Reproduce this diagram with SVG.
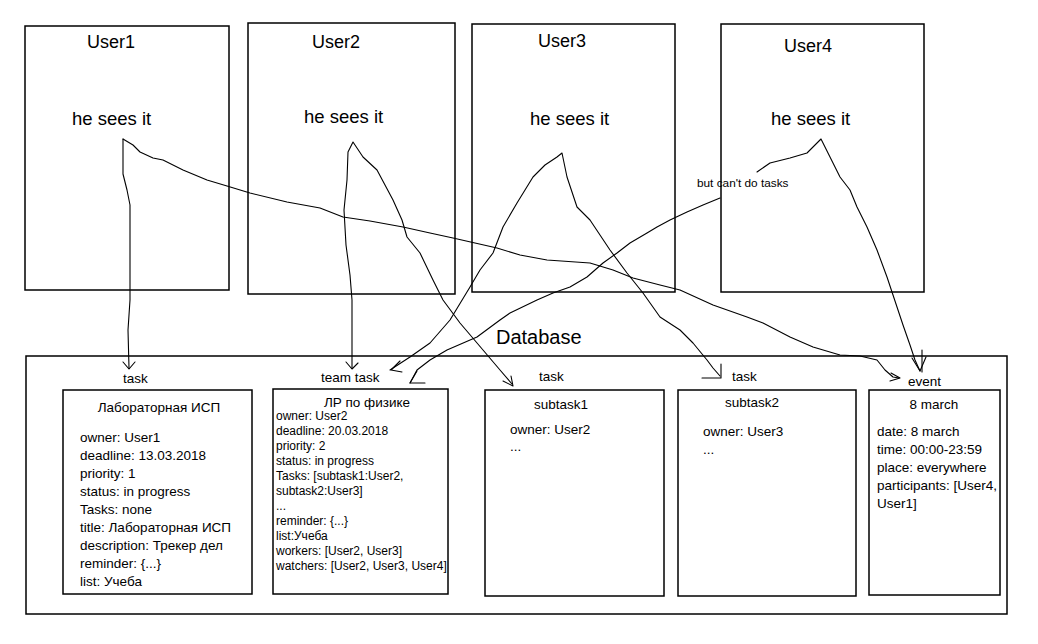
<svg xmlns="http://www.w3.org/2000/svg" width="1038" height="644" viewBox="0 0 1038 644">
<style>
  .box { fill: none; stroke: #000; stroke-width: 1.5; }
  .t { font-family: "Liberation Sans", Arial, "Noto Sans CJK SC", sans-serif; fill: #000; }
  .user { font-size: 18px; }
  .sees { font-size: 18.5px; }
  .lbl { font-size: 13.5px; }
  .body { font-size: 13.5px; }
  .body12 { font-size: 12px; }
  .db { font-size: 20px; }
  .note { font-size: 11.8px; }
  .wire { fill: none; stroke: #000; stroke-width: 1.1; stroke-linejoin: round; stroke-linecap: round; }
</style>
<rect x="0" y="0" width="1038" height="644" fill="#fff"/>

<g id="user1">
  <rect class="box" x="25" y="26" width="204" height="264"/>
  <text class="t user" x="87" y="48">User1</text>
  <text class="t sees" x="72" y="125">he sees it</text>
</g>
<g id="user2">
  <rect class="box" x="248" y="23" width="207" height="271"/>
  <text class="t user" x="312" y="48">User2</text>
  <text class="t sees" x="304" y="123">he sees it</text>
</g>
<g id="user3">
  <rect class="box" x="472" y="24" width="203" height="268"/>
  <text class="t user" x="538" y="47">User3</text>
  <text class="t sees" x="530" y="125">he sees it</text>
</g>
<g id="user4">
  <rect class="box" x="721" y="24" width="203" height="268"/>
  <text class="t user" x="784" y="52">User4</text>
  <text class="t sees" x="771" y="125">he sees it</text>
</g>

<g id="database">
  <rect class="box" x="26" y="356" width="981" height="258"/>
  <text class="t db" x="496" y="344">Database</text>
</g>

<g id="task1">
  <text class="t lbl" x="123" y="383">task</text>
  <rect class="box" x="63" y="390" width="189" height="204"/>
  <text class="t body" x="159" y="412" text-anchor="middle">Лабораторная ИСП</text>
  <text class="t body" x="80" y="441.5">owner: User1</text>
  <text class="t body" x="80" y="459.5">deadline: 13.03.2018</text>
  <text class="t body" x="80" y="477.5">priority: 1</text>
  <text class="t body" x="80" y="495.5">status: in progress</text>
  <text class="t body" x="80" y="513.5">Tasks: none</text>
  <text class="t body" x="80" y="531.5">title: Лабораторная ИСП</text>
  <text class="t body" x="80" y="549.5">description: Трекер дел</text>
  <text class="t body" x="80" y="567.5">reminder: {...}</text>
  <text class="t body" x="80" y="585.5">list: Учеба</text>
</g>

<g id="teamtask">
  <text class="t lbl" x="321" y="382">team task</text>
  <rect class="box" x="273" y="389" width="175" height="205"/>
  <text class="t body" x="367" y="407" text-anchor="middle">ЛР по физике</text>
  <text class="t body12" x="276" y="420">owner: User2</text>
  <text class="t body12" x="276" y="435">deadline: 20.03.2018</text>
  <text class="t body12" x="276" y="450">priority: 2</text>
  <text class="t body12" x="276" y="465">status: in progress</text>
  <text class="t body12" x="276" y="480">Tasks: [subtask1:User2,</text>
  <text class="t body12" x="276" y="495">subtask2:User3]</text>
  <text class="t body12" x="276" y="510">...</text>
  <text class="t body12" x="276" y="525">reminder: {...}</text>
  <text class="t body12" x="276" y="540">list:Учеба</text>
  <text class="t body12" x="276" y="555">workers: [User2, User3]</text>
  <text class="t body12" x="276" y="570">watchers: [User2, User3, User4]</text>
</g>

<g id="subtask1">
  <text class="t lbl" x="539" y="381">task</text>
  <rect class="box" x="485" y="390" width="179" height="206"/>
  <text class="t body" x="561" y="409" text-anchor="middle">subtask1</text>
  <text class="t body" x="510" y="434">owner: User2</text>
  <text class="t body" x="510" y="451">...</text>
</g>

<g id="subtask2">
  <text class="t lbl" x="732" y="381">task</text>
  <rect class="box" x="678" y="390" width="178" height="206"/>
  <text class="t body" x="752" y="407" text-anchor="middle">subtask2</text>
  <text class="t body" x="703" y="436">owner: User3</text>
  <text class="t body" x="703" y="454">...</text>
</g>

<g id="event">
  <text class="t lbl" x="908" y="386">event</text>
  <rect class="box" x="869" y="390" width="131" height="205"/>
  <text class="t body" x="934" y="409" text-anchor="middle">8 march</text>
  <text class="t body" x="877" y="436">date: 8 march</text>
  <text class="t body" x="877" y="454">time: 00:00-23:59</text>
  <text class="t body" x="877" y="472">place: everywhere</text>
  <text class="t body" x="877" y="490">participants: [User4,</text>
  <text class="t body" x="877" y="508">User1]</text>
</g>

<g id="connectors">
  <!-- User1 -> task -->
  <path class="wire" d="M123,139 L123,174 L127,190 L130,205 L130,300 L128,330 L129,368"/>
  <path class="wire" d="M123,362 L129,369 L135,362"/>
  <!-- User1 -> event -->
  <path class="wire" d="M123,139 L133,145 L140,152 L153,158 L163,160 L183,170 L207,180 L227,186 L250,193 L287,202 L320,208 L343,217 L370,221 L403,227 L430,233 L453,238 L497,248 L520,255 L547,260 L590,263 L613,270 L633,278 L660,285 L680,290 L713,305 L747,317 L763,323 L790,337 L813,347 L840,355 L860,356 L877,360 L885,370 L893,377 L899,378"/>
  <path class="wire" d="M891,373 L900,378 L890,381"/>
  <!-- User2 -> team task, subtask1 -->
  <path class="wire" d="M352,368 L352,300 L350,275 L346,245 L344,210 L347,180 L348,152 L353,142 L363,157 L377,170 L393,200 L402,220 L407,237 L420,253 L433,280 L443,300 L460,323 L483,350 L500,370 L512,384"/>
  <path class="wire" d="M346,362 L352,369 L358,363"/>
  <path class="wire" d="M503,381 L513,386 L511,376"/>
  <!-- User3 -> team task, subtask2 -->
  <path class="wire" d="M390,370 L410,357 L430,343 L450,320 L470,287 L480,270 L493,253 L503,227 L517,203 L533,177 L545,165 L557,157 L562,153 L567,177 L577,207 L590,220 L610,250 L627,273 L643,293 L660,317 L680,330 L693,343 L707,360 L713,368 L720,376"/>
  <path class="wire" d="M400,361 L391,370 L402,372"/>
  <path class="wire" d="M721,364 L721,378 L702,378"/>
  <!-- User4 -> team task (but can't do tasks), event -->
  <path class="wire" d="M757,172 L770,163 L790,158 L807,153 L821,139 L830,157 L840,177 L850,190 L857,207 L867,227 L877,250 L887,277 L897,307 L903,325 L910,345 L915,360 L920,371"/>
  <path class="wire" d="M912,358 L920,371 L926,357"/>
  <path class="wire" d="M922,350 L922,372"/>
  <path class="wire" d="M720,198 L703,205 L687,212 L670,220 L657,227 L647,233 L630,243 L617,253 L603,263 L587,277 L570,287 L553,293 L537,300 L510,313 L500,320 L477,337 L447,350 L430,360 L417,370 L410,383"/>
  <path class="wire" d="M417,371 L410,383 L425,383"/>
  <text class="t note" x="697" y="187">but can't do tasks</text>
</g>
</svg>
